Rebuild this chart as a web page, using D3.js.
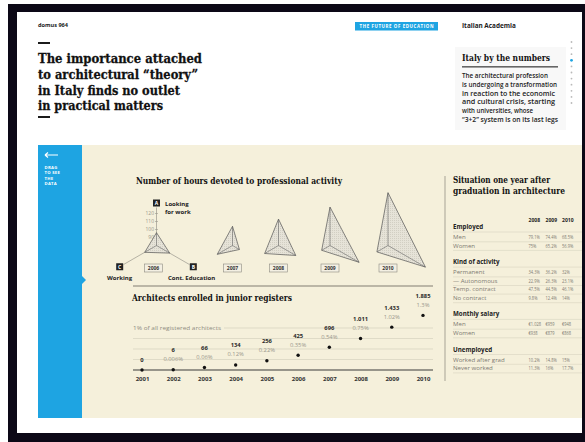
<!DOCTYPE html>
<html><head><meta charset="utf-8">
<script src="https://cdn.jsdelivr.net/npm/d3@7"></script>
<style>body{margin:0;background:#fff}svg{display:block}</style>
</head><body><svg id="c" width="585" height="442"></svg>
<script>
// ---------- DATA ----------
const radarYears = [2006, 2007, 2008, 2009, 2010];
const lookingForWork = [96, 104, 113, 128, 146];   // axis A
const contEducation = [99, 90, 105, 122, 134];     // axis B
const working = [97, 102, 100, 92, 96];            // axis C
const radarTicks = [90, 100, 110, 120];

const regYears = [2001, 2002, 2003, 2004, 2005, 2006, 2007, 2008, 2009, 2010];
const enrolled = [0, 6, 66, 134, 256, 425, 696, 1011, 1433, 1885];
const enrolledPct = [0, 0.006, 0.06, 0.12, 0.22, 0.35, 0.54, 0.75, 1.02, 1.3];
const pctGrid = [0.25, 0.5, 0.75, 1];

const tableYears = ["2008", "2009", "2010"];
const groupTitles = ["Employed", "Kind of activity", "Monthly salary", "Unemployed"];
const employedLabels = ["Men", "Women"];
const employedValues = [["79.1%", "74.4%", "68.5%"], ["75%", "65.2%", "56.9%"]];
const activityLabels = ["Permanent", "\u2014 Autonomous", "Temp. contract", "No contract"];
const activityValues = [["34.3%", "36.2%", "32%"], ["22.9%", "26.3%", "23.1%"], ["47.5%", "44.5%", "46.1%"], ["9.8%", "12.4%", "14%"]];
const salaryLabels = ["Men", "Women"];
const salaryValues = [["\u20ac1.028", "\u20ac959", "\u20ac948"], ["\u20ac938", "\u20ac879", "\u20ac868"]];
const unemployedLabels = ["Worked after grad", "Never worked"];
const unemployedValues = [["10.2%", "14.8%", "15%"], ["11.3%", "16%", "17.7%"]];

const introLines = ["The architectural profession", "is undergoing a transformation",
  "in reaction to the economic", "and cultural crisis, starting", "with universities, whose",
  "\u201c3+2\u201d system is on its last legs"];
const titleLines = ["The importance attached", "to architectural \u201ctheory\u201d",
  "in Italy finds no outlet", "in practical matters"];

// ---------- SETUP ----------
const svg = d3.select("#c");
const W = 585, H = 442;
const SERIF = "'DejaVu Serif', serif";
const SANS = "'Open Sans', 'Noto Sans', sans-serif";
const BEIGE = "#f5f0db", BLUE = "#1ea4e2", DARK = "#1b1b1b";

const defs = svg.append("defs");
const pat = defs.append("pattern").attr("id", "hatch").attr("width", 2).attr("height", 2)
  .attr("patternUnits", "userSpaceOnUse");
pat.append("rect").attr("width", 2).attr("height", 2).attr("fill", "#e6e3d8");
pat.append("rect").attr("width", 1).attr("height", 1).attr("fill", "#d2cfc3");

svg.append("rect").attr("width", W).attr("height", H).attr("fill", "#fff");

// header
svg.append("text").attr("x", 38).attr("y", 27).attr("font-family", SANS).attr("font-weight", 700)
  .attr("font-size", 5.6).attr("fill", DARK).text("domus 964");
svg.append("rect").attr("x", 38).attr("y", 42).attr("width", 12).attr("height", 2).attr("fill", DARK);
const tW = [164, 160, 142, 125];
titleLines.forEach((t, i) => {
  svg.append("text").attr("x", 38).attr("y", 63 + i * 15.8).attr("font-family", SERIF)
    .attr("font-weight", 700).attr("font-size", 13.5).attr("fill", "#111")
    .attr("stroke", "#111").attr("stroke-width", 0.3)
    .attr("textLength", tW[i]).attr("lengthAdjust", "spacingAndGlyphs").text(t);
});
svg.append("rect").attr("x", 38).attr("y", 116).attr("width", 12).attr("height", 2).attr("fill", DARK);

svg.append("rect").attr("x", 355).attr("y", 22).attr("width", 83).attr("height", 8.5).attr("fill", BLUE);
svg.append("text").attr("x", 396.5).attr("y", 28.2).attr("text-anchor", "middle").attr("font-family", SANS)
  .attr("font-weight", 700).attr("font-size", 4.4).attr("fill", "#fff")
  .attr("textLength", 74).attr("lengthAdjust", "spacing").text("THE FUTURE OF EDUCATION");
svg.append("text").attr("x", 462).attr("y", 28).attr("font-family", SANS).attr("font-weight", 700)
  .attr("font-size", 6.4).attr("fill", DARK).text("Italian Academia");

svg.append("rect").attr("x", 455).attr("y", 47).attr("width", 111).attr("height", 83).attr("fill", "#f8f8f8");
svg.append("text").attr("x", 462).attr("y", 61).attr("font-family", SERIF).attr("font-weight", 700)
  .attr("font-size", 9.5).attr("fill", "#111").attr("textLength", 88)
  .attr("lengthAdjust", "spacingAndGlyphs").text("Italy by the numbers");
svg.append("rect").attr("x", 462).attr("y", 66).attr("width", 96).attr("height", 1.6).attr("fill", "#666");
const introW = [86, 95, 93, 93, 71, 96];
introLines.forEach((t, i) => {
  svg.append("text").attr("x", 462).attr("y", 78 + i * 8.8).attr("font-family", SANS)
    .attr("font-size", 6.8).attr("font-weight", 600).attr("fill", "#222")
    .attr("textLength", introW[i]).attr("lengthAdjust", "spacingAndGlyphs").text(t);
});
const navDots = d3.range(11);
svg.append("g").selectAll("circle").data(navDots).join("circle")
  .attr("cx", 571.5).attr("cy", d => 42 + d * 6.1).attr("r", d => d === 3 ? 1.4 : 0.9)
  .attr("fill", d => d === 3 ? BLUE : "#b9b9b9");

// panels
svg.append("rect").attr("x", 82).attr("y", 145).attr("width", 500).attr("height", 273).attr("fill", BEIGE);
svg.append("rect").attr("x", 38).attr("y", 145).attr("width", 44).attr("height", 273).attr("fill", BLUE);
svg.append("path").attr("d", "M82,276 L86,280 L82,284 Z").attr("fill", BLUE);
svg.append("path").attr("d", "M45,155 L58,155 M45,155 L48,152.5 M45,155 L48,157.5")
  .attr("stroke", "#fff").attr("stroke-width", 1.2).attr("fill", "none");
["DRAG", "TO SEE", "THE", "DATA"].forEach((t, i) => {
  svg.append("text").attr("x", 44.5).attr("y", 169 + i * 5.4).attr("font-family", SANS)
    .attr("font-weight", 700).attr("font-size", 4.2).attr("fill", "#fff").attr("letter-spacing", 0.3).text(t);
});

// ---------- RADAR CHART ----------
svg.append("text").attr("x", 136).attr("y", 184).attr("font-family", SERIF).attr("font-weight", 700)
  .attr("font-size", 8.5).attr("fill", "#111").attr("textLength", 206)
  .attr("lengthAdjust", "spacingAndGlyphs").text("Number of hours devoted to professional activity");

const rX = d3.scaleOrdinal().domain(radarYears).range([156.5, 232.5, 278.5, 330, 388]);
const rY = 245.5;
const rScale = d3.scaleLinear().domain([80, 120]).range([0, 32]);
const angA = -Math.PI / 2, angB = Math.PI / 6, angC = Math.PI * 5 / 6;
const pt = (cx, ang, r) => [cx + Math.cos(ang) * r, rY + Math.sin(ang) * r];

const rg = svg.append("g");
const cx0 = rX(radarYears[0]);
[angA, angB, angC].forEach(a => {
  const p = pt(cx0, a, 38);
  rg.append("line").attr("x1", cx0).attr("y1", rY).attr("x2", p[0]).attr("y2", p[1])
    .attr("stroke", "#9a978c").attr("stroke-width", 0.7);
});
radarTicks.forEach(t => {
  const y = rY - rScale(t);
  rg.append("line").attr("x1", cx0 - 1.5).attr("x2", cx0 + 1.5).attr("y1", y).attr("y2", y)
    .attr("stroke", "#9a978c").attr("stroke-width", 0.6);
  rg.append("text").attr("x", cx0 - 2.5).attr("y", y + 1.8).attr("text-anchor", "end")
    .attr("font-family", SANS).attr("font-size", 5).attr("fill", "#9a978c").text(t);
});
const line = d3.line().curve(d3.curveLinearClosed);
radarYears.forEach((yr, i) => {
  const cx = rX(yr);
  const pts = [pt(cx, angA, rScale(lookingForWork[i])), pt(cx, angB, rScale(contEducation[i])),
    pt(cx, angC, rScale(working[i]))];
  rg.append("path").attr("d", line(pts)).attr("fill", "url(#hatch)")
    .attr("stroke", "#555").attr("stroke-width", 0.7).attr("stroke-linejoin", "round");
  pts.forEach(p => rg.append("line").attr("x1", cx).attr("y1", rY).attr("x2", p[0]).attr("y2", p[1])
    .attr("stroke", "#666").attr("stroke-width", 0.6));
  const bx = i === 0 ? cx - 3 : cx;
  rg.append("rect").attr("x", bx - 9).attr("y", 264).attr("width", 18).attr("height", 8)
    .attr("fill", "#f3efe2").attr("stroke", "#8d8a80").attr("stroke-width", 0.6);
  rg.append("text").attr("x", bx).attr("y", 270).attr("text-anchor", "middle").attr("font-family", SANS)
    .attr("font-weight", 700).attr("font-size", 5).attr("fill", "#333").text(yr);
});
[["A", angA], ["B", angB], ["C", angC]].forEach(([l, a]) => {
  const p = pt(cx0, a, 42.5);
  rg.append("rect").attr("x", p[0] - 3.5).attr("y", p[1] - 3.5).attr("width", 7).attr("height", 7).attr("fill", "#222");
  rg.append("text").attr("x", p[0]).attr("y", p[1] + 2).attr("text-anchor", "middle").attr("font-family", SANS)
    .attr("font-weight", 700).attr("font-size", 5).attr("fill", "#fff").text(l);
});
const lblStyle = s => s.attr("font-family", SANS).attr("font-weight", 700).attr("font-size", 6).attr("fill", "#222");
rg.append("text").attr("x", 165).attr("y", 206).text("Looking").call(lblStyle);
rg.append("text").attr("x", 165).attr("y", 213.5).text("for work").call(lblStyle);
rg.append("text").attr("x", 107).attr("y", 280).text("Working").call(lblStyle);
rg.append("text").attr("x", 168).attr("y", 280).text("Cont. Education").call(lblStyle);

svg.append("line").attr("x1", 133).attr("x2", 433).attr("y1", 286).attr("y2", 286)
  .attr("stroke", "#a7a395").attr("stroke-width", 1.4);

// ---------- DOT CHART ----------
svg.append("text").attr("x", 132).attr("y", 301).attr("font-family", SERIF).attr("font-weight", 700)
  .attr("font-size", 8.5).attr("fill", "#111").attr("textLength", 160)
  .attr("lengthAdjust", "spacingAndGlyphs").text("Architects enrolled in junior registers");

const x = d3.scalePoint().domain(regYears).range([142, 423]);
const y = d3.scaleLinear().domain([0, 1]).range([370, 328]);
const dg = svg.append("g");
pctGrid.forEach(v => {
  dg.append("line").attr("x1", v === 1 ? 224 : 133).attr("x2", 433).attr("y1", y(v)).attr("y2", y(v))
    .attr("stroke", "#d6d1be").attr("stroke-width", 0.7);
});
dg.append("text").attr("x", 133).attr("y", y(1) + 1.8).attr("font-family", SANS).attr("font-size", 6)
  .attr("fill", "#8f8c82").attr("textLength", 88).attr("lengthAdjust", "spacingAndGlyphs")
  .text(pctGrid[3] + "% of all registered architects");
dg.append("line").attr("x1", 133).attr("x2", 433).attr("y1", y(0)).attr("y2", y(0))
  .attr("stroke", "#3a3a3a").attr("stroke-width", 1.1);
const xAxis = d3.axisBottom(x).tickSize(0).tickPadding(7);
const ax = dg.append("g").attr("transform", `translate(0,${y(0)})`).call(xAxis);
ax.select(".domain").remove();
ax.selectAll("text").attr("font-family", SANS).attr("font-weight", 700).attr("font-size", 6).attr("fill", "#333");

const itLocale = d3.formatLocale({decimal: ",", thousands: ".", grouping: [3], currency: ["\u20ac", ""]});
const fmtCount = itLocale.format(",d");
const fmtPct = v => d3.format("~r")(v) + "%";
regYears.forEach((yr, i) => {
  const cx = x(yr), cy = y(enrolledPct[i]);
  dg.append("circle").attr("cx", cx).attr("cy", cy).attr("r", 1.7).attr("fill", "#111");
  const hasPct = enrolledPct[i] > 0;
  dg.append("text").attr("x", cx).attr("y", cy - (hasPct ? 17.5 : 8.5)).attr("text-anchor", "middle")
    .attr("font-family", SANS).attr("font-weight", 700).attr("font-size", 5.8).attr("fill", "#2a2a2a")
    .text(fmtCount(enrolled[i]));
  if (hasPct) dg.append("text").attr("x", cx).attr("y", cy - 8.5).attr("text-anchor", "middle")
    .attr("font-family", SANS).attr("font-size", 5.8).attr("fill", "#9a978c").text(fmtPct(enrolledPct[i]));
});

// ---------- TABLE ----------
svg.append("line").attr("x1", 445).attr("x2", 445).attr("y1", 176).attr("y2", 381)
  .attr("stroke", "#a7a395").attr("stroke-width", 1);
svg.append("text").attr("x", 453).attr("y", 183).attr("font-family", SERIF).attr("font-weight", 700)
  .attr("font-size", 8.5).attr("fill", "#111").attr("textLength", 97)
  .attr("lengthAdjust", "spacingAndGlyphs").text("Situation one year after");
svg.append("text").attr("x", 453).attr("y", 194).attr("font-family", SERIF).attr("font-weight", 700)
  .attr("font-size", 8.5).attr("fill", "#111").attr("textLength", 112)
  .attr("lengthAdjust", "spacingAndGlyphs").text("graduation in architecture");

const colX = d3.scaleOrdinal().domain(tableYears).range([528.5, 545.5, 562]);
const tg = svg.append("g");
tableYears.forEach(t => tg.append("text").attr("transform", `translate(${colX(t)},222) scale(0.84,1)`)
  .attr("font-family", SANS).attr("font-weight", 700).attr("font-size", 6).attr("fill", "#222").text(t));
const groups = [[employedLabels, employedValues], [activityLabels, activityValues],
  [salaryLabels, salaryValues], [unemployedLabels, unemployedValues]];
let gy = 229;
groups.forEach(([labels, vals], g) => {
  tg.append("text").attr("x", 453).attr("y", gy).attr("font-family", SANS).attr("font-weight", 700)
    .attr("font-size", 6.2).attr("fill", "#222").text(groupTitles[g]);
  tg.append("line").attr("x1", 453).attr("x2", 582).attr("y1", gy + 3).attr("y2", gy + 3)
    .attr("stroke", "#d3cebb").attr("stroke-width", 0.5);
  labels.forEach((lab, r) => {
    const ry = gy + 10 + r * 8.6;
    tg.append("text").attr("x", 453).attr("y", ry).attr("font-family", SANS).attr("font-size", 6.1)
      .attr("fill", "#7d7a72").text(lab);
    vals[r].forEach((v, c) => tg.append("text")
      .attr("transform", `translate(${colX(tableYears[c])},${ry}) scale(0.68,1)`)
      .attr("font-family", SANS).attr("font-size", 5.9).attr("fill", "#7d7a72").text(v));
    tg.append("line").attr("x1", 453).attr("x2", 582).attr("y1", ry + 2.8).attr("y2", ry + 2.8)
      .attr("stroke", "#d3cebb").attr("stroke-width", 0.5);
  });
  gy = gy + 10 + (labels.length - 1) * 8.6 + 16.5;
});

// ---------- FRAME ----------
svg.append("path").attr("fill-rule", "evenodd").attr("fill", "#0c0816")
  .attr("d", `M8,4 H${W} V${H} H8 Z M17,12 V433 H582 V12 Z`);
</script></body></html>
